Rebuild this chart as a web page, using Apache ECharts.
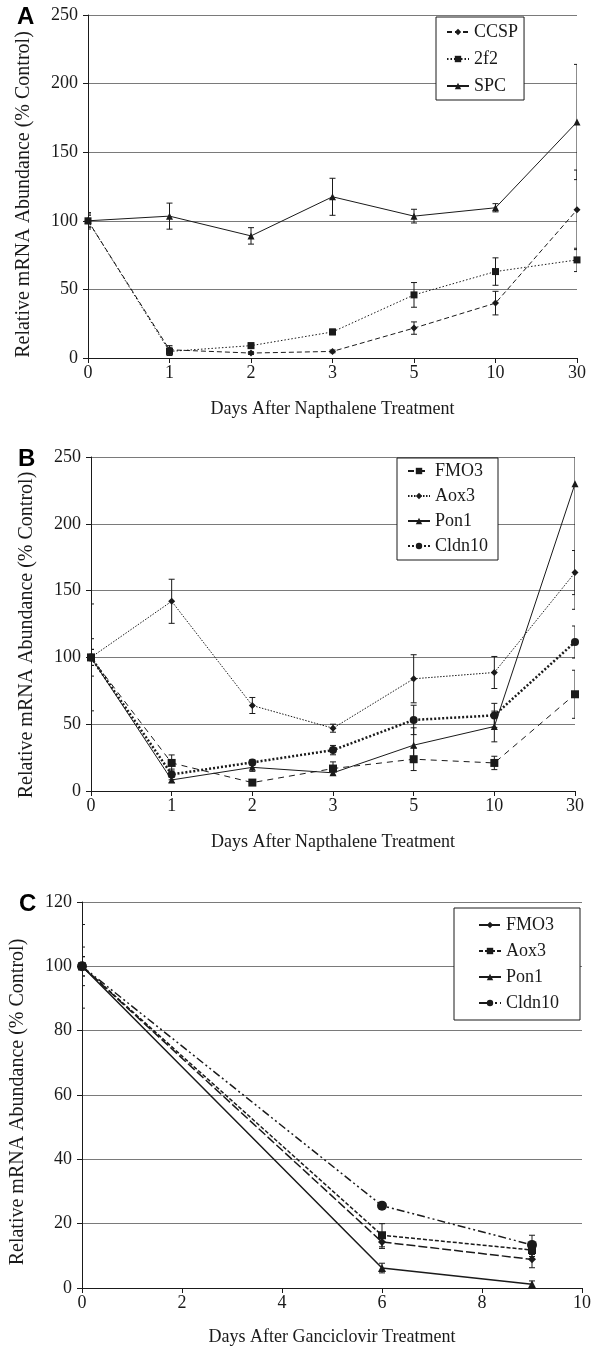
<!DOCTYPE html>
<html>
<head>
<meta charset="utf-8">
<script src="https://cdn.jsdelivr.net/npm/echarts@6/dist/echarts.min.js"></script>
<style>
  html, body { margin: 0; padding: 0; background: #fff; }
  #chart { width: 594px; height: 1358px; }
</style>
</head>
<body>
<div id="chart"></div>
<script>
// panel A / B: days after napthalene (category axis)
var napDays = ['0', '1', '2', '3', '5', '10', '30'];

var ccsp = [100, 6, 3.6, 4.8, 21.8, 40, 108];
var ccspErr = [6, 3, 1, 1, 4.5, 8.6, 29];
var f2f2 = [100, 4.8, 9, 19, 46, 63, 71.5];
var f2f2Err = [5, 3, 2, 2, 9, 10, 8.5];
var spc = [100, 103.4, 89, 117.5, 103.4, 109.5, 172];
var spcErr = [4, 9.5, 6, 13.5, 5, 3, 42];

var fmo3B = [100, 21, 6.3, 16.8, 23.8, 21, 72.4];
var fmo3BErr = [6, 6, 1, 5, 8.5, 5, 18];
var aox3B = [100, 142, 64, 47, 84, 88.7, 163.5];
var aox3BErr = [14, 16.5, 6, 3, 18, 12, 16.5];
var pon1B = [100, 8.3, 17.7, 13.6, 34.3, 48.3, 230];
var pon1BErr = [40, 2, 3, 2, 13, 11.5, 94];
var cldnB = [100, 12.4, 21.4, 30.6, 53.2, 56.6, 111.5];
var cldnBErr = [6, 4, 2, 3.5, 11, 9, 12];

// panel C: days after ganciclovir (value axis)
var gcvDays = [0, 6, 9];
var fmo3C = [100, 14.3, 8.9];
var fmo3CErr = [3, 2, 2.6];
var aox3C = [100, 16.4, 11.8];
var aox3CErr = [6, 3.6, 2];
var pon1C = [100, 6.2, 1.2];
var pon1CErr = [13, 1.5, 1];
var cldnC = [100, 25.6, 13.4];
var cldnCErr = [3, 1, 3];

var SERIF = '"Liberation Serif", "Times New Roman", serif';
var INK = '#1a1a1a';

var myChart = echarts.init(document.getElementById('chart'));

function errItem(params, api) {
  var x = api.value(0);
  var top = api.coord([x, api.value(2)]);
  var bot = api.coord([x, api.value(1)]);
  var st = { stroke: INK, lineWidth: 1 };
  return {
    type: 'group',
    children: [
      { type: 'line', shape: { x1: top[0], y1: top[1], x2: bot[0], y2: bot[1] }, style: st },
      { type: 'line', shape: { x1: top[0] - 3, y1: top[1], x2: top[0] + 3, y2: top[1] }, style: st },
      { type: 'line', shape: { x1: bot[0] - 3, y1: bot[1], x2: bot[0] + 3, y2: bot[1] }, style: st }
    ]
  };
}

// pairs x with y (index for category axes)
function pts(xs, ys) {
  return ys.map(function (v, i) { return [xs ? xs[i] : i, v]; });
}
function errs(xs, ys, es) {
  return ys.map(function (v, i) { return [xs ? xs[i] : i, v - es[i], v + es[i]]; });
}

function lineS(name, g, xs, ys, symbol, size, lineStyle) {
  return {
    name: name, type: 'line', xAxisIndex: g, yAxisIndex: g,
    data: pts(xs, ys), symbol: symbol, symbolSize: size,
    itemStyle: { color: INK }, lineStyle: Object.assign({ color: INK, width: 1 }, lineStyle),
    z: 3, animation: false
  };
}
function errS(g, xs, ys, es) {
  return {
    type: 'custom', xAxisIndex: g, yAxisIndex: g, clip: true,
    renderItem: errItem, data: errs(xs, ys, es),
    encode: { x: 0, y: [1, 2] }, z: 2, silent: true, animation: false
  };
}

var grids = [
  { left: 88, right: 17, top: 15, height: 343 },
  { left: 91, right: 19, top: 457, height: 334 },
  { left: 82, right: 12, top: 902, height: 386 }
];

function xCat(g, name) {
  return {
    type: 'category', gridIndex: g, data: napDays, boundaryGap: false,
    name: name, nameLocation: 'middle', nameGap: 42,
    nameTextStyle: { fontFamily: SERIF, fontSize: 18, color: INK },
    axisLine: { lineStyle: { color: INK } },
    axisTick: { alignWithLabel: true, length: 5, lineStyle: { color: INK } },
    axisLabel: { fontFamily: SERIF, fontSize: 18, color: INK, margin: 6 },
    splitLine: { show: false }
  };
}
// shift: extra end padding that nudges the rotated title toward the bottom
function yVal(g, max, interval, shift) {
  return {
    type: 'value', gridIndex: g, min: 0, max: max, interval: interval,
    name: 'Relative mRNA Abundance (% Control)', nameLocation: 'middle', nameGap: 54,
    nameTextStyle: { fontFamily: SERIF, fontSize: 20, color: INK, padding: [0, shift, 0, 0] },
    axisLine: { show: true, lineStyle: { color: INK } },
    axisTick: { show: true, length: 5, lineStyle: { color: INK } },
    axisLabel: { fontFamily: SERIF, fontSize: 18, color: INK, margin: 10 },
    splitLine: { show: true, lineStyle: { color: '#7a7a7a', width: 1 } }
  };
}

var legendBase = {
  orient: 'vertical', backgroundColor: '#fff', borderColor: INK, borderWidth: 1,
  itemWidth: 22, itemHeight: 8, itemGap: 6,
  textStyle: { fontFamily: SERIF, fontSize: 18, color: INK },
  formatter: function (n) { return n.split('|')[1]; },
  selectedMode: false
};

var option = {
  backgroundColor: '#fff',
  animation: false,
  title: [
    { text: 'A', left: 17, top: 5 },
    { text: 'B', left: 18, top: 447 },
    { text: 'C', left: 19, top: 892 }
  ].map(function (t) {
    t.textStyle = { fontFamily: '"Liberation Sans", Arial, sans-serif', fontWeight: 'bold', fontSize: 24, color: '#000' };
    t.padding = 0;
    return t;
  }),
  grid: grids,
  legend: [
    Object.assign({}, legendBase, { left: 436, top: 17, padding: [6, 6, 5, 10], itemGap: 9,
      data: ['A|CCSP', 'A|2f2', 'A|SPC'] }),
    Object.assign({}, legendBase, { left: 397, top: 458, padding: [4, 10, 5, 10], itemGap: 7,
      data: ['B|FMO3', 'B|Aox3', 'B|Pon1', 'B|Cldn10'] }),
    Object.assign({}, legendBase, { left: 454, top: 908, padding: [8, 21, 8, 24], itemGap: 8,
      data: ['C|FMO3', 'C|Aox3', 'C|Pon1', 'C|Cldn10'] })
  ],
  xAxis: [
    xCat(0, 'Days After Napthalene Treatment'),
    xCat(1, 'Days After Napthalene Treatment'),
    {
      type: 'value', gridIndex: 2, min: 0, max: 10, interval: 2,
      name: 'Days After Ganciclovir Treatment', nameLocation: 'middle', nameGap: 40,
      nameTextStyle: { fontFamily: SERIF, fontSize: 18, color: INK },
      axisLine: { lineStyle: { color: INK } },
      axisTick: { length: 5, lineStyle: { color: INK } },
      axisLabel: { fontFamily: SERIF, fontSize: 18, color: INK, margin: 6 },
      splitLine: { show: false }
    }
  ],
  yAxis: [yVal(0, 250, 50, 16), yVal(1, 250, 50, 22), yVal(2, 120, 20, 14)],
  series: [
    errS(0, null, ccsp, ccspErr),
    errS(0, null, f2f2, f2f2Err),
    errS(0, null, spc, spcErr),
    lineS('A|CCSP', 0, null, ccsp, 'diamond', 7, { type: [5, 3] }),
    lineS('A|2f2', 0, null, f2f2, 'rect', 7, { type: [1.5, 2] }),
    lineS('A|SPC', 0, null, spc, 'triangle', 7, { type: 'solid' }),

    errS(1, null, fmo3B, fmo3BErr),
    errS(1, null, aox3B, aox3BErr),
    errS(1, null, pon1B, pon1BErr),
    errS(1, null, cldnB, cldnBErr),
    lineS('B|FMO3', 1, null, fmo3B, 'rect', 8, { type: [6, 5] }),
    lineS('B|Aox3', 1, null, aox3B, 'diamond', 7, { type: [1.5, 1.5] }),
    lineS('B|Pon1', 1, null, pon1B, 'triangle', 7, { type: 'solid' }),
    lineS('B|Cldn10', 1, null, cldnB, 'circle', 8, { type: [2, 2], width: 2.5 }),

    errS(2, gcvDays, fmo3C, fmo3CErr),
    errS(2, gcvDays, aox3C, aox3CErr),
    errS(2, gcvDays, pon1C, pon1CErr),
    errS(2, gcvDays, cldnC, cldnCErr),
    lineS('C|FMO3', 2, gcvDays, fmo3C, 'diamond', 8, { type: [9, 3], width: 1.5 }),
    lineS('C|Aox3', 2, gcvDays, aox3C, 'rect', 8, { type: [4, 2], width: 1.5 }),
    lineS('C|Pon1', 2, gcvDays, pon1C, 'triangle', 8, { type: 'solid', width: 1.5 }),
    lineS('C|Cldn10', 2, gcvDays, cldnC, 'circle', 10, { type: [8, 3, 2, 3, 2, 3], width: 1.5 })
  ]
};

myChart.setOption(option);
window.addEventListener('resize', function () { myChart.resize(); });
</script>
</body>
</html>
